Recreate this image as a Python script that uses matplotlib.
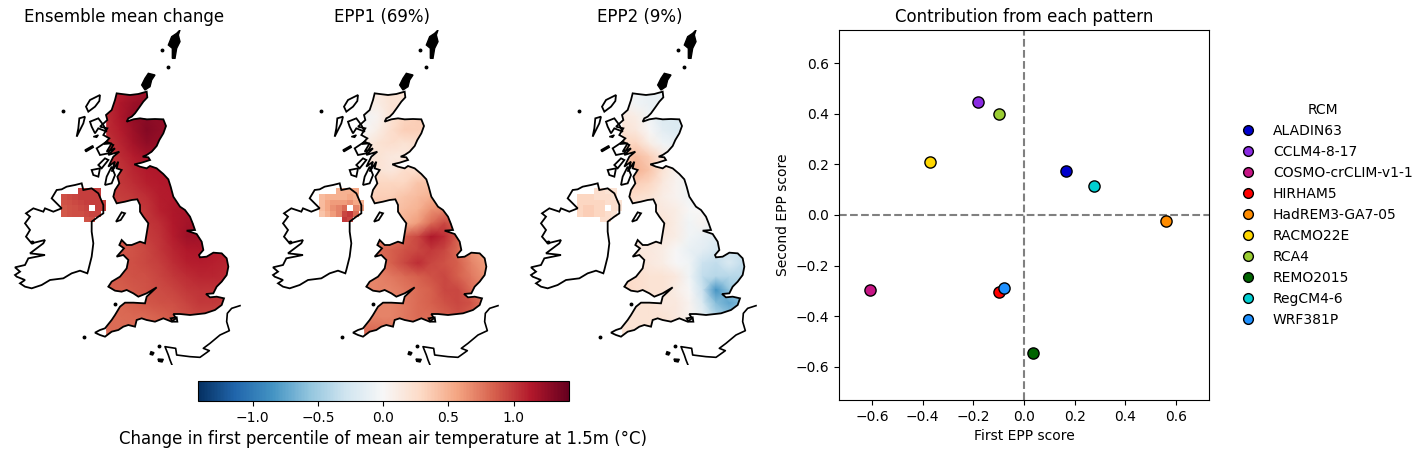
from matplotlib import pyplot as plt
from matplotlib.patches import Polygon
from matplotlib.lines import Line2D
from matplotlib.cm import ScalarMappable
from matplotlib.colors import Normalize
import numpy as np

nan = np.nan

# map units, north up is small y
gb_coast = [(350,220),(365,222),(390,225),(415,222),(440,215),(442,232),(430,245),(418,262),(405,280),(395,290),(385,295),(380,305),(400,298),(420,295),(440,298),(465,297),(490,298),(498,318),(490,340),(478,360),(470,378),(455,395),(440,405),(428,410),(445,412),(450,420),(425,428),(403,433),(420,440),(440,445),(450,438),(470,445),(490,462),(505,478),(512,500),(520,530),(540,560),(555,570),(570,590),(578,610),(585,630),(560,632),(590,642),(605,665),(610,690),(597,705),(600,712),(620,710),(640,698),(665,700),(680,715),(685,740),(680,765),(665,785),(650,800),(640,820),(618,822),(630,832),(650,830),(672,835),(665,855),(645,870),(615,880),(570,885),(540,882),(520,882),(528,895),(515,905),(490,895),(465,905),(440,900),(425,895),(410,900),(405,920),(385,915),(370,920),(355,930),(335,935),(315,950),(300,945),(285,938),(300,930),(315,925),(335,900),(345,885),(360,860),(375,848),(400,848),(435,850),(440,830),(470,802),(440,820),(415,830),(400,820),(380,810),(365,815),(345,812),(325,800),(335,785),(360,770),(380,745),(385,720),(370,705),(350,710),(372,685),(358,675),(365,660),(380,675),(395,675),(420,665),(435,670),(440,640),(445,610),(430,590),(420,575),(420,555),(412,538),(395,540),(375,545),(350,550),(340,530),(345,510),(358,490),(352,470),(365,450),(350,445),(355,425),(335,455),(345,425),(325,440),(340,410),(358,395),(325,405),(345,385),(320,395),(335,370),(312,372),(328,355),(310,345),(322,325),(300,320),(322,300),(318,285),(335,270),(345,240)]
ireland_coast = [(155,535),(170,510),(185,508),(200,500),(225,495),(245,490),(250,510),(275,505),(295,520),(310,555),(310,580),(295,590),(275,605),(275,635),(280,670),(275,710),(265,750),(262,760),(240,752),(215,760),(190,775),(150,780),(125,795),(95,805),(75,800),(60,790),(75,780),(50,770),(45,765),(60,755),(45,742),(75,735),(85,715),(135,705),(90,700),(130,670),(135,660),(95,670),(78,650),(90,630),(75,610),(90,590),(78,580),(100,565),(130,575),(135,565),(160,575),(185,565)]
islands = [
    [(258,260),(270,240),(300,225),(298,243),(285,260),(265,275)],
    [(238,295),(255,290),(250,310),(240,330),(230,350),(235,325)],
    [(270,305),(295,295),(310,315),(320,335),(295,325),(285,340),(275,320)],
    [(290,385),(320,365),(340,375),(325,400),(300,405)],
    [(275,450),(300,445),(295,470),(280,465)],
    [(295,435),(315,415),(325,420),(305,445)],
    [(320,470),(335,440),(345,465),(335,490),(315,495)],
    [(348,605),(365,577),(375,580),(362,600)],
    [(512,895),(530,892),(532,905),(518,905)],
]
solid_islands = [
    [(540,30),(530,40),(515,50),(505,75),(517,85),(517,115),(525,115),(530,85),(540,65),(535,45)],
    [(445,160),(465,165),(455,180),(450,200),(435,210),(425,195),(435,175)],
    [(255,390),(278,377),(280,382),(258,395)],
    [(280,350),(295,345),(290,352)],
    [(453,995),(462,998),(458,1005),(450,1003)],
    [(474,1017),(490,1018),(486,1026),(476,1024)],
]
dots = [(485,90),(505,142),(188,273),(252,952),(345,852),(478,978),(95,665)]
france_coast = [(720,857),(695,865),(682,880),(680,905),(688,932),(660,945),(630,970),(610,985),(628,992),(600,1012),(570,1010),(530,1005),(527,985),(495,980),(505,1005),(510,1020),(518,1040)]

grid_x = [320,360,400,440,480,520,560,600,640,680,720]
grid_y = [210,250,290,330,370,410,450,490,530,570,610,650,690,730,770,810,850,890,930,970]

mean_gb = [
    [1.05,1.1,1.15,1.2,1.2,1.15,1.1,1.1,1.1,1.1,1.1],
    [1.05,1.15,1.22,1.25,1.22,1.2,1.15,1.1,1.1,1.1,1.1],
    [1.05,1.15,1.25,1.28,1.26,1.22,1.15,1.1,1.1,1.1,1.1],
    [1.05,1.12,1.22,1.3,1.26,1.22,1.15,1.1,1.1,1.1,1.1],
    [1.02,1.08,1.18,1.26,1.24,1.2,1.15,1.1,1.1,1.1,1.1],
    [1.0,1.05,1.12,1.18,1.18,1.12,1.1,1.1,1.1,1.1,1.1],
    [1.0,1.02,1.08,1.13,1.15,1.12,1.1,1.1,1.1,1.1,1.1],
    [1.0,1.0,1.05,1.1,1.13,1.14,1.12,1.1,1.1,1.1,1.1],
    [.98,.98,1.0,1.05,1.12,1.13,1.14,1.12,1.1,1.1,1.1],
    [.95,.95,.98,1.02,1.1,1.15,1.17,1.17,1.15,1.1,1.1],
    [.95,.95,.95,1.0,1.05,1.14,1.18,1.2,1.18,1.1,1.1],
    [.92,.92,.92,.98,1.03,1.12,1.2,1.2,1.18,1.12,1.1],
    [.9,.88,.9,.95,1.02,1.08,1.14,1.15,1.13,1.1,1.1],
    [.9,.9,.92,.95,.98,1.05,1.1,1.12,1.1,1.08,1.08],
    [.88,.88,.9,.92,.96,1.0,1.05,1.08,1.08,1.06,1.06],
    [.85,.85,.88,.9,.93,.96,1.0,1.03,1.03,1.03,1.03],
    [.82,.82,.85,.88,.9,.92,.96,1.0,1.0,.98,.98],
    [.8,.8,.82,.82,.85,.88,.92,.95,.95,.95,.95],
    [.8,.8,.8,.82,.82,.85,.88,.9,.9,.9,.9],
    [.8,.8,.8,.8,.8,.82,.85,.88,.9,.9,.9],
]
epp1_gb = [
    [.15,.15,.2,.2,.2,.2,.2,.2,.2,.2,.2],
    [.1,.1,.2,.2,.2,.25,.25,.25,.25,.25,.25],
    [-.05,.05,.2,.3,.35,.35,.35,.3,.3,.3,.3],
    [0,.1,.25,.35,.35,.3,.3,.3,.3,.3,.3],
    [.1,.2,.25,.2,.25,.25,.25,.25,.25,.25,.25],
    [.15,.2,.15,.15,.2,.2,.2,.2,.2,.2,.2],
    [.2,.2,.15,.25,.25,.3,.3,.3,.3,.3,.3],
    [.25,.3,.3,.3,.4,.4,.4,.4,.4,.4,.4],
    [.3,.35,.35,.4,.45,.5,.55,.55,.55,.55,.55],
    [.4,.4,.4,.45,.5,.65,.7,.75,.7,.7,.7],
    [.5,.45,.45,.5,.6,.8,.95,.8,.7,.7,.7],
    [.7,.7,.75,.85,.95,1.15,1.05,.85,.6,.6,.6],
    [.75,.8,.85,.9,.95,1.0,.95,.8,.65,.55,.55],
    [.7,.75,.85,.95,1.05,.95,.9,.85,.7,.6,.6],
    [.65,.7,.75,.8,.85,.9,.95,.85,.75,.65,.65],
    [.7,.7,.7,.75,.8,.85,.95,.95,.8,.7,.7],
    [.65,.7,.7,.75,.8,.85,.9,.95,.9,.75,.75],
    [.7,.7,.7,.75,.8,.8,.85,.9,.85,.75,.75],
    [.8,.8,.75,.75,.75,.8,.8,.8,.8,.8,.8],
    [.8,.8,.8,.8,.8,.8,.8,.8,.8,.8,.8],
]
epp2_gb = [
    [.05,-.05,-.1,-.1,-.1,-.1,-.1,-.1,-.1,-.1,-.1],
    [.05,-.05,-.1,-.1,-.1,-.15,-.15,-.15,-.15,-.15,-.15],
    [.15,.1,-.05,-.2,-.2,-.2,-.2,-.2,-.2,-.2,-.2],
    [.2,.15,0,-.15,-.2,-.2,-.2,-.2,-.2,-.2,-.2],
    [.3,.3,.1,-.05,-.1,-.1,-.1,-.1,-.1,-.1,-.1],
    [.35,.45,.35,.15,0,-.05,-.05,-.05,-.05,-.05,-.05],
    [.35,.5,.4,.2,.05,-.05,-.1,-.1,-.1,-.1,-.1],
    [.3,.35,.3,.15,.05,-.05,-.1,-.1,-.1,-.1,-.1],
    [.3,.25,.2,.1,.05,-.05,-.15,-.15,-.15,-.15,-.15],
    [.2,.2,.15,.15,.1,0,0,-.1,-.1,-.1,-.1],
    [.15,.15,.15,.2,.1,-.05,.05,-.1,-.1,-.1,-.1],
    [.15,.15,.15,.15,.1,-.05,-.1,-.15,-.2,-.2,-.2],
    [.15,.15,.15,.1,0,-.1,-.15,-.25,-.3,-.3,-.3],
    [.2,.2,.15,.1,0,-.05,-.3,-.35,-.2,-.35,-.35],
    [.25,.25,.2,.2,.15,-.05,-.35,-.4,-.4,-.4,-.4],
    [.3,.25,.2,.2,.1,0,-.3,-.85,-.55,-.5,-.5],
    [.2,.2,.2,.15,.15,.05,-.2,-.6,-.75,-.6,-.6],
    [.2,.2,.2,.2,.15,.05,-.1,-.4,-.55,-.45,-.4],
    [.2,.2,.2,.2,.15,.05,-.05,-.2,-.3,-.3,-.3],
    [.2,.2,.2,.2,.15,.05,-.05,-.2,-.3,-.3,-.3],
]

ni_x = [183,200,217,234,251,268,285,302,319]
ni_y = [505,522,539,556,573,590,607]
mean_ni = [
    [nan,nan,nan,.98,.98,.98,.98,nan],
    [.92,.94,.96,.98,.98,.98,.98,nan],
    [.9,.92,.94,.96,.98,.98,.98,.98],
    [.88,.9,.92,.94,.96,nan,.98,.98],
    [.88,.9,.92,.92,.94,.96,.96,nan],
    [nan,nan,nan,nan,.9,.92,nan,nan],
]
epp1_ni = [
    [nan,nan,nan,.5,.5,.5,.55,nan],
    [.45,.5,.5,.5,.5,.55,.5,nan],
    [.45,.55,.6,.6,.6,.65,.55,.5],
    [.45,.55,.65,.7,.8,nan,.7,.6],
    [.4,.5,.6,.7,.95,1.0,.8,nan],
    [nan,nan,nan,nan,1.0,.95,nan,nan],
]
epp2_ni = [
    [nan,nan,nan,.25,.25,.2,.2,nan],
    [.3,.3,.3,.25,.25,.25,.2,nan],
    [.3,.3,.3,.3,.3,.25,.25,.2],
    [.3,.35,.35,.3,.3,nan,.25,.2],
    [.3,.35,.35,.3,.3,.25,.2,nan],
    [nan,nan,nan,nan,.25,.25,nan,nan],
]

panel_titles = ['Ensemble mean change', 'EPP1 (69%)', 'EPP2 (9%)']
panel_gb = [mean_gb, epp1_gb, epp2_gb]
panel_ni = [mean_ni, epp1_ni, epp2_ni]

rcm_names = ['ALADIN63', 'CCLM4-8-17', 'COSMO-crCLIM-v1-1', 'HIRHAM5', 'HadREM3-GA7-05', 'RACMO22E', 'RCA4', 'REMO2015', 'RegCM4-6', 'WRF381P']
rcm_colors = ['mediumblue', 'blueviolet', 'mediumvioletred', 'red', 'darkorange', 'gold', 'yellowgreen', 'darkgreen', 'darkturquoise', 'dodgerblue']
first_score = [.166, -.18, -.61, -.1, .56, -.37, -.1, .035, .275, -.08]
second_score = [.174, .445, -.296, -.303, -.025, .21, .398, -.545, .115, -.288]

W, H = 1427, 454
LIMIT = 1.42


def px_axes(fig, left, top, right, bottom):
    return fig.add_axes([left / W, 1 - bottom / H, (right - left) / W, (bottom - top) / H])


def plot_map(ax, gb_values, ni_values, title):
    norm = Normalize(-LIMIT, LIMIT)
    mesh = ax.pcolormesh(grid_x, grid_y, np.array(gb_values), cmap='RdBu_r', norm=norm, shading='gouraud')
    land = Polygon(gb_coast, closed=True, transform=ax.transData, fc='none', ec='none')
    ax.add_patch(land)
    mesh.set_clip_path(land)
    ax.pcolormesh(ni_x, ni_y, np.array(ni_values), cmap='RdBu_r', norm=norm, shading='flat')
    for shape in [gb_coast, ireland_coast] + islands:
        ax.add_patch(Polygon(shape, closed=True, fc='none', ec='black', lw=1.3))
    for shape in solid_islands:
        ax.add_patch(Polygon(shape, closed=True, fc='black', ec='black', lw=1))
    ax.plot([p[0] for p in france_coast], [p[1] for p in france_coast], color='black', lw=1.2)
    ax.plot([p[0] for p in dots], [p[1] for p in dots], ls='none', marker='o', ms=1.8, color='black')
    ax.set_xlim(12, 732)
    ax.set_ylim(1035, 30)
    ax.set_title(title, fontsize=12)
    ax.axis('off')


def plot_scores(ax):
    for name, color, x, y in zip(rcm_names, rcm_colors, first_score, second_score):
        ax.scatter(x, y, s=65, color=color, edgecolor='black', linewidth=1, zorder=3)
    ax.axhline(0, color='gray', ls='--', lw=1.5)
    ax.axvline(0, color='gray', ls='--', lw=1.5)
    ax.set_xlim(-0.731, 0.731)
    ax.set_ylim(-0.731, 0.731)
    ax.set_xlabel('First EPP score')
    ax.set_ylabel('Second EPP score')
    ax.set_title('Contribution from each pattern', fontsize=12)
    handles = [Line2D([], [], ls='none', marker='o', ms=7, mfc=c, mec='black', mew=1) for c in rcm_colors]
    ax.legend(handles, rcm_names, title='RCM', frameon=False, loc='center left',
              bbox_to_anchor=(1.0527, 0.5), borderaxespad=0)


if __name__ == "__main__":
    fig = plt.figure(figsize=(W / 100, H / 100), dpi=100)

    for i, offset in enumerate([0, 258, 516]):
        ax = px_axes(fig, 4 + offset, 30, 244 + offset, 365)
        plot_map(ax, panel_gb[i], panel_ni[i], panel_titles[i])

    cax = px_axes(fig, 198, 381, 568.5, 401)
    cbar = fig.colorbar(ScalarMappable(Normalize(-LIMIT, LIMIT), 'RdBu_r'), cax=cax, orientation='horizontal')
    cbar.set_ticks([-1, -0.5, 0, 0.5, 1])
    cbar.set_label('Change in first percentile of mean air temperature at 1.5m (°C)', fontsize=12)

    plot_scores(px_axes(fig, 839, 30, 1209, 400))

    plt.savefig('out.png', dpi=100)
